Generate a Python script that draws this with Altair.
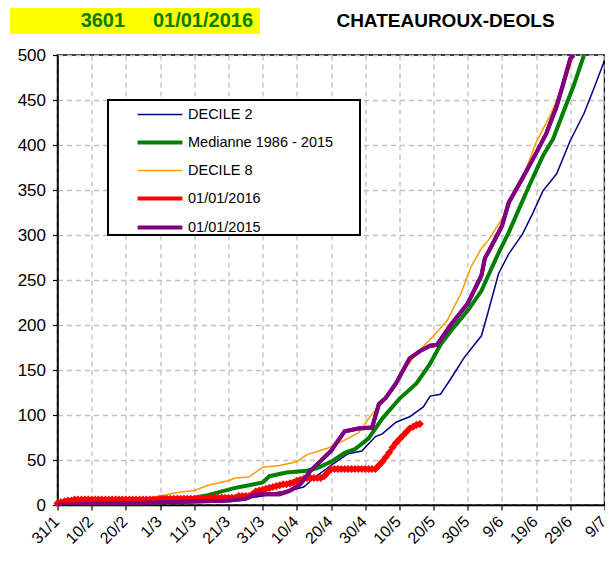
import altair as alt
import pandas as pd

# ---------------- data ----------------
tick_labels = ["31/1", "10/2", "20/2", "1/3", "11/3", "21/3", "31/3", "10/4", "20/4",
               "30/4", "10/5", "20/5", "30/5", "9/6", "19/6", "29/6", "9/7"]
tick_days = [0, 10, 20, 30, 40, 50, 60, 70, 80, 90, 100, 110, 120, 130, 140, 150, 160]
y_ticks = [0, 50, 100, 150, 200, 250, 300, 350, 400, 450, 500]

series_names = ["DECILE 2", "Medianne 1986 - 2015", "DECILE 8", "01/01/2016", "01/01/2015"]
series_colors = ["#000080", "#008000", "#FF9900", "#FF0000", "#800080"]
series_widths = [1.5, 4, 1.5, 4, 4]

title_left = "3601\u00a0\u00a0\u00a0\u00a0\u00a001/01/2016"
title_right = "CHATEAUROUX-DEOLS"

# day index 0 = 31/1
dec2_days = [0, 20, 40, 50, 56, 60, 64, 68, 72, 75, 80, 85, 89, 93, 95, 99, 103, 107, 109,
             112, 115, 119, 124, 126, 129, 132, 136, 139, 142, 146, 150, 154, 157, 160]
dec2_vals = [0, 1, 3, 6, 8, 10, 14, 16, 20, 30, 44, 57, 60, 76, 79, 92, 98, 109, 121,
             123, 140, 164, 188, 215, 257, 279, 301, 324, 349, 368, 405, 435, 464, 494]

med_days = [0, 10, 20, 30, 40, 44, 47, 52, 56, 60, 62, 67, 73, 76, 80, 84, 87, 91, 95, 100,
            105, 109, 112, 115, 120, 124, 126, 129, 132, 135, 138, 142, 145, 148, 151, 154]
med_vals = [0, 1, 2, 4, 8, 11, 14, 19, 22, 25, 32, 36, 38, 41, 48, 58, 62, 74, 96, 118,
            135, 157, 178, 193, 216, 238, 255, 280, 303, 329, 355, 388, 407, 437, 466, 500]

dec8_days = [0, 10, 20, 27, 30, 35, 40, 44, 50, 52, 56, 60, 65, 70, 73, 79, 84, 88, 91, 95,
             101, 105, 110, 114, 118, 121, 124, 126, 130, 133, 136, 140, 144, 147, 149, 151]
dec8_vals = [1, 3, 5, 8, 10, 14, 16, 22, 27, 30, 31, 42, 44, 48, 56, 63, 72, 80, 96, 115,
             148, 168, 188, 205, 235, 265, 285, 294, 318, 340, 363, 403, 432, 458, 477, 500]

y2015_days = [0, 10, 20, 30, 40, 50, 55, 58, 65, 68, 71, 74, 77, 80, 84, 88, 92, 94, 96, 99,
              103, 106, 109, 111, 115, 120, 124, 125, 127, 130, 132, 136, 140, 143, 146, 148, 150, 151]
y2015_vals = [0, 1, 2, 3, 4, 5, 7, 12, 12, 16, 23, 38, 49, 60, 82, 85, 86, 112, 119, 135,
              163, 171, 177, 178, 200, 224, 255, 274, 288, 310, 336, 363, 391, 413, 443, 469, 496, 500]

# daily values of 2016 (day 0 .. 106)
y2016_vals = ([2, 3, 4, 5, 5]
              + [6] * 25
              + [7] * 15
              + [8] * 8
              + [10] * 4
              + [12, 15, 16, 17, 18, 19, 20, 21, 22, 23, 23, 24, 25, 27, 28, 29]
              + [30] * 5
              + [32, 36]
              + [40] * 14
              + [44, 48, 53, 58, 64, 69, 73, 77, 81, 85, 87, 89, 90])
y2016_days = list(range(len(y2016_vals)))

# ---------------- table ----------------
rows = []
for name, days, vals in [
    (series_names[0], dec2_days, dec2_vals),
    (series_names[1], med_days, med_vals),
    (series_names[2], dec8_days, dec8_vals),
    (series_names[3], y2016_days, y2016_vals),
    (series_names[4], y2015_days, y2015_vals),
]:
    for d, v in zip(days, vals):
        rows.append({"series": name, "day": d, "value": v})
df = pd.DataFrame(rows)
df_red = df[df["series"] == series_names[3]]
df_purple = df[df["series"] == series_names[4]]

label_expr = "[" + ",".join("'%s'" % t for t in tick_labels) + "][round(datum.value/10)]"

x_enc = alt.X("day:Q",
              scale=alt.Scale(domain=[0, 160], nice=False, zero=False),
              axis=alt.Axis(values=tick_days, labelExpr=label_expr, labelAngle=-45,
                            labelOverlap=False, title=None, labelFontSize=16, grid=True,
                            labelPadding=3, labelOffset=-7))
y_enc = alt.Y("value:Q",
              scale=alt.Scale(domain=[0, 500], nice=False),
              axis=alt.Axis(values=y_ticks, title=None, labelFontSize=17, labelPadding=7,
                            labelOverlap=False))

legend = alt.Legend(title=None, orient="none", legendX=50.5, legendY=44.5,
                    padding=0,
                    symbolType="M-1.6,0L1.6,0", symbolSize=784, symbolOffset=36,
                    labelOffset=12, labelFontSize=14.5, labelFont="Liberation Sans",
                    labelColor="black", labelLimit=400, rowPadding=5)

lines = alt.Chart(df).mark_line(clip=True).encode(
    x=x_enc,
    y=y_enc,
    color=alt.Color("series:N", scale=alt.Scale(domain=series_names, range=series_colors),
                    legend=legend),
    strokeWidth=alt.StrokeWidth("series:N",
                                scale=alt.Scale(type="ordinal", domain=series_names,
                                                range=series_widths),
                                legend=legend),
)

red_pts = alt.Chart(df_red).mark_point(shape="diamond", filled=True, size=65,
                                       color="#FF0000", opacity=1).encode(
    x=x_enc, y=y_enc)

purple_top = alt.Chart(df_purple).mark_line(color="#800080", strokeWidth=4, clip=True).encode(
    x=x_enc, y=y_enc)

legend_box = alt.Chart(pd.DataFrame({"t": ["legend"]})).mark_rect(
    fill="white", stroke="black", strokeWidth=2).encode(
    x=alt.value(50.5), x2=alt.value(302.5), y=alt.value(45), y2=alt.value(180))

title_box = alt.Chart(pd.DataFrame({"t": [title_left]})).mark_rect(color="#FFFF00").encode(
    x=alt.value(-47.5), x2=alt.value(202.5), y=alt.value(-50), y2=alt.value(-21))

title_l = alt.Chart(pd.DataFrame({"t": [title_left]})).mark_text(
    font="Liberation Sans", fontSize=20, fontWeight="bold", color="#008000",
    align="right", baseline="middle").encode(
    x=alt.value(195.5), y=alt.value(-34), text="t:N")

title_r = alt.Chart(pd.DataFrame({"t": [title_right]})).mark_text(
    font="Liberation Sans", fontSize=19, fontWeight="bold", color="black",
    align="center", baseline="middle").encode(
    x=alt.value(388), y=alt.value(-34), text="t:N")

chart = alt.layer(title_box, title_l, title_r, legend_box, lines, red_pts, purple_top).properties(
    width=547, height=450,
    autosize=alt.AutoSizeParams(type="none"),
    padding={"left": 49.5, "top": 47, "right": 0, "bottom": 50},
    background="white",
).configure_view(
    stroke="black", strokeWidth=1.5
).configure_axis(
    labelFont="Liberation Sans", labelColor="black",
    gridColor="#c0c0c0", gridDash=[5, 4], gridWidth=1.3,
    domainColor="black", domainWidth=1.5,
    tickColor="black", tickSize=5, tickWidth=1.2,
).configure_axisX(
    labelOverlap=False
)

chart.save("out.html", embed_options={"renderer": "svg", "actions": False})
